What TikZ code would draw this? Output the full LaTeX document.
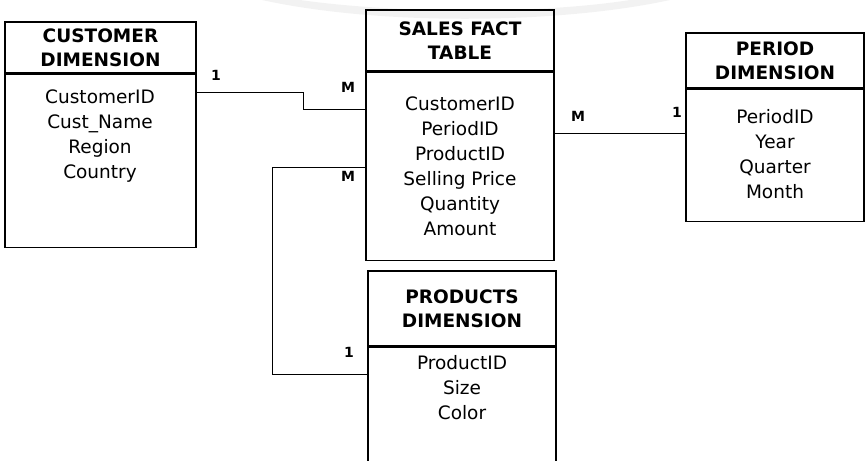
\documentclass[tikz,border=0pt]{standalone}
\usepackage{fontspec}
\setmainfont{DejaVu Sans}
\usetikzlibrary{positioning}

\begin{document}
\begin{tikzpicture}[
  x=1pt, y=-1pt,
  hdr/.style={draw, line width=1.2pt, inner sep=0pt},
  bdy/.style={draw, line width=1.2pt, inner sep=0pt, anchor=north},
  ttl/.style={font=\fontsize{18.5}{24}\selectfont\bfseries, align=center, inner sep=0pt},
  fld/.style={font=\fontsize{18.5}{25}\selectfont, align=center, inner sep=0pt},
  card/.style={font=\fontsize{14}{15}\selectfont\bfseries, inner sep=0pt},
  lnk/.style={line width=1.2pt},
]
\useasboundingbox (0,0) rectangle (866,460);

% faint mark at the top
\fill[gray!10] (262,0) .. controls (380,26) and (560,24) .. (670,0) -- (630,0) .. controls (540,14) and (400,14) .. (300,0) -- cycle;

% --- Customer dimension ---
\node[hdr, minimum width=191pt, minimum height=51pt] (cust-h) at (100.5,47.5) {};
\node[bdy, minimum width=191pt, minimum height=173pt] (cust-b) at (cust-h.south) {};
\node[ttl] (cust-t) at (cust-h.center) {CUSTOMER\\DIMENSION};
\node[fld] (cust-f) at (100,136) {CustomerID\\Cust\_Name\\Region\\Country};

% --- Sales fact table ---
\node[hdr, minimum width=188pt, minimum height=61pt] (sales-h) at (460,40.5) {};
\node[bdy, minimum width=188pt, minimum height=188pt] (sales-b) at (sales-h.south) {};
\node[ttl] (sales-t) at (sales-h.center) {SALES FACT\\TABLE};
\node[fld] (sales-f) at (460,166) {CustomerID\\PeriodID\\ProductID\\Selling Price\\Quantity\\Amount};

% --- Period dimension ---
\node[hdr, minimum width=178pt, minimum height=55pt] (per-h) at (775,60.5) {};
\node[bdy, minimum width=178pt, minimum height=132pt] (per-b) at (per-h.south) {};
\node[ttl] (per-t) at (per-h.center) {PERIOD\\DIMENSION};
\node[fld] (per-f) at (775,154) {PeriodID\\Year\\Quarter\\Month};

% --- Products dimension ---
\node[hdr, minimum width=188pt, minimum height=75pt] (prod-h) at (462,308.5) {};
\node[bdy, minimum width=188pt, minimum height=130pt] (prod-b) at (prod-h.south) {};
\node[ttl] (prod-t) at (prod-h.center) {PRODUCTS\\DIMENSION};
\node[fld] (prod-f) at (462,388) {ProductID\\Size\\Color};

% --- Links ---
\draw[lnk] ([yshift=-19pt]cust-b.north east) -- ++(107,0) |- ([yshift=-38pt]sales-b.north west);
\draw[lnk] ([yshift=-96pt]sales-b.north west) -- ++(-93,0) |- ([yshift=-28pt]prod-b.north west);
\draw[lnk] ([yshift=-62pt]sales-b.north east) -- ([yshift=-45pt]per-b.north west);

% cardinalities
\node[card] (c1) at (216,75) {1};
\node[card] (c2) at (348,87) {M};
\node[card] (c3) at (348,176) {M};
\node[card] (c4) at (349,352) {1};
\node[card] (c5) at (578,116) {M};
\node[card] (c6) at (677,112) {1};

\end{tikzpicture}
\end{document}
